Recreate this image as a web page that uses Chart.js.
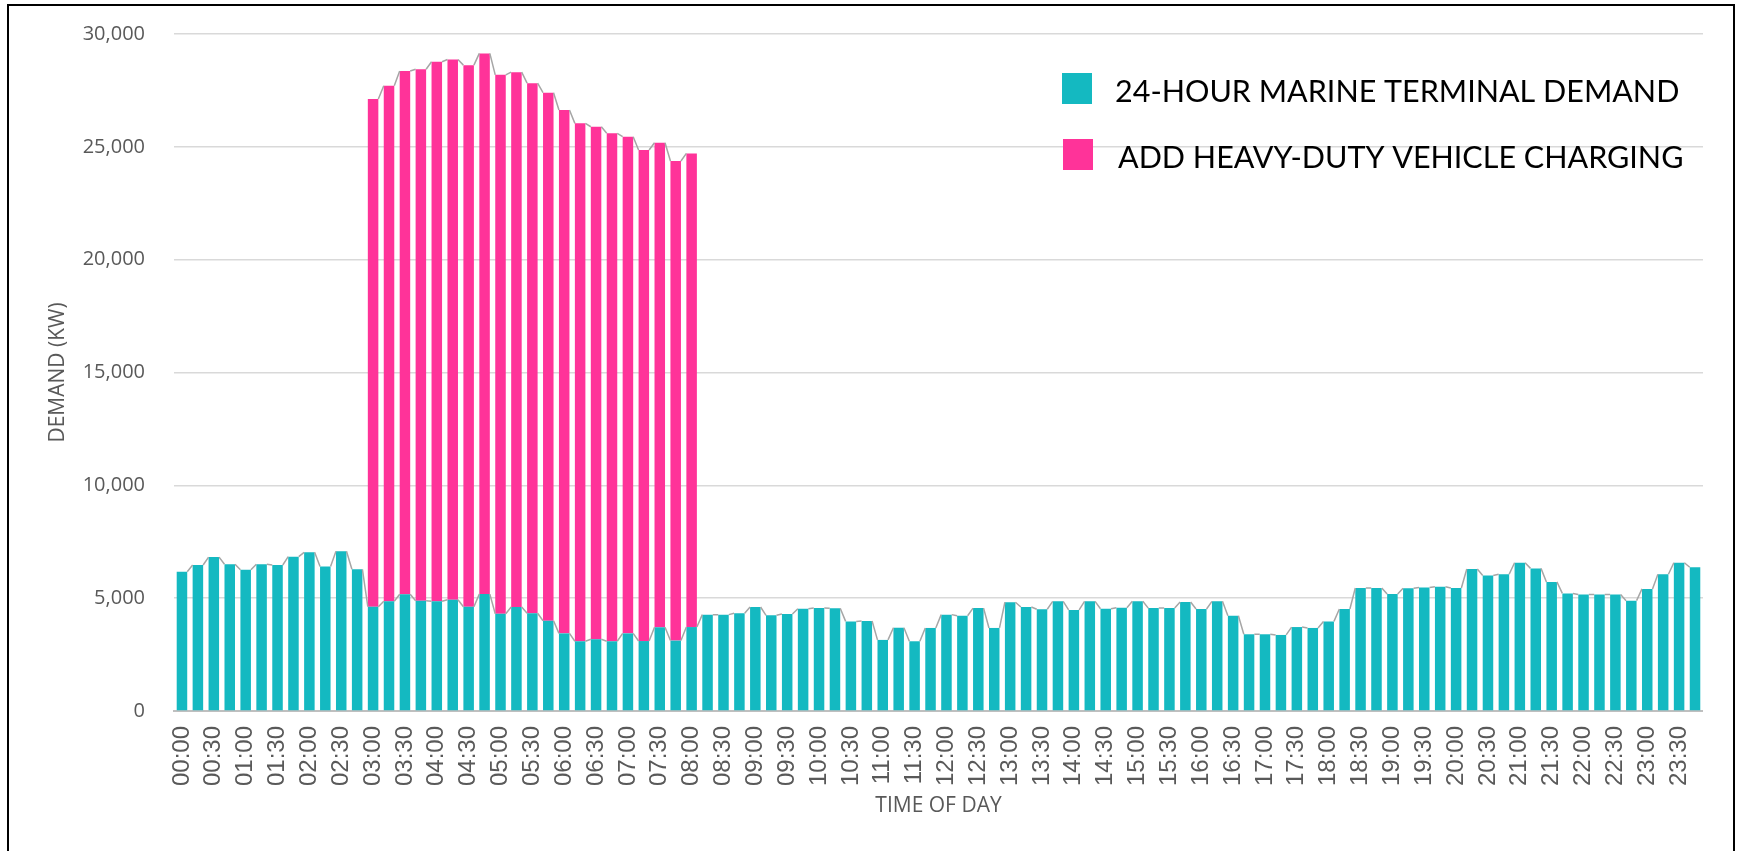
<!DOCTYPE html>
<html>
<head>
<meta charset="utf-8">
<script src="https://cdn.jsdelivr.net/npm/chart.js@4.4.1/dist/chart.umd.min.js"></script>
<style>
  html,body{margin:0;padding:0;background:#fff;overflow:hidden}
  #wrap{position:relative;width:1739px;height:851px}
  #frame{position:absolute;left:7px;top:4px;width:1728px;height:900px;border:2px solid #000;box-sizing:border-box;pointer-events:none}
  canvas{position:absolute;left:0;top:0}
</style>
</head>
<body>
<div id="wrap">
  <canvas id="chart" width="1739" height="851"></canvas>
  <div id="frame"></div>
</div>
<script>
// 15-minute slots, labelled every half hour
const times = [
  '00:00','00:15','00:30','00:45','01:00','01:15','01:30','01:45','02:00','02:15','02:30','02:45',
  '03:00','03:15','03:30','03:45','04:00','04:15','04:30','04:45','05:00','05:15','05:30','05:45',
  '06:00','06:15','06:30','06:45','07:00','07:15','07:30','07:45','08:00','08:15','08:30','08:45',
  '09:00','09:15','09:30','09:45','10:00','10:15','10:30','10:45','11:00','11:15','11:30','11:45',
  '12:00','12:15','12:30','12:45','13:00','13:15','13:30','13:45','14:00','14:15','14:30','14:45',
  '15:00','15:15','15:30','15:45','16:00','16:15','16:30','16:45','17:00','17:15','17:30','17:45',
  '18:00','18:15','18:30','18:45','19:00','19:15','19:30','19:45','20:00','20:15','20:30','20:45',
  '21:00','21:15','21:30','21:45','22:00','22:15','22:30','22:45','23:00','23:15','23:30','23:45'
];

const terminalDemand = [
  6170,6470,6820,6500,6260,6500,6470,6840,7030,6400,7080,6280,
  4620,4860,5170,4890,4860,4930,4620,5180,4310,4610,4330,4000,
  3440,3090,3180,3090,3440,3100,3710,3120,3720,4270,4270,4330,
  4610,4240,4300,4530,4560,4550,3970,3990,3150,3690,3090,3680,
  4270,4220,4560,3680,4820,4610,4510,4860,4480,4860,4530,4580,
  4860,4560,4560,4830,4520,4860,4220,3400,3400,3370,3720,3680,
  3970,4520,5450,5450,5180,5440,5470,5510,5450,6290,6000,6060,
  6570,6320,5720,5210,5160,5160,5160,4890,5410,6060,6570,6370
];

// charging only runs 03:00 - 08:00
const truckCharging = [
  null,null,null,null,null,null,null,null,null,null,null,null,
  22500,22850,23190,23550,23910,23940,24000,23960,23880,23700,23490,23400,
  23190,22950,22710,22510,22010,21760,21470,21250,20990,null,null,null,
  null,null,null,null,null,null,null,null,null,null,null,null,
  null,null,null,null,null,null,null,null,null,null,null,null,
  null,null,null,null,null,null,null,null,null,null,null,null,
  null,null,null,null,null,null,null,null,null,null,null,null,
  null,null,null,null,null,null,null,null,null,null,null,null
];

const seriesNames = ['24-HOUR MARINE TERMINAL DEMAND','ADD HEAVY-DUTY VEHICLE CHARGING'];
const TEAL='#14b9c1', PINK='#ff3399', GRAY='#595959';

// excel-style series lines between neighbouring bar tops
const seriesLines = {
  id:'seriesLines',
  afterDatasetsDraw(chart){
    const ctx=chart.ctx;
    ctx.save();
    ctx.strokeStyle='#a6a6a6'; ctx.lineWidth=1.5; ctx.lineJoin='round';
    chart.data.datasets.forEach((ds,d)=>{
      const bars=chart.getDatasetMeta(d).data;
      ctx.beginPath();
      for(let i=0;i<bars.length-1;i++){
        if(ds.data[i]==null||ds.data[i+1]==null) continue;
        const a=bars[i], b=bars[i+1];
        ctx.moveTo(a.x+a.width/2, a.y);
        ctx.lineTo(b.x-b.width/2, b.y);
      }
      ctx.stroke();
    });
    ctx.restore();
  }
};

const boxLegend = {
  id:'boxLegend',
  afterDraw(chart){
    const ctx=chart.ctx;
    const items=[{c:TEAL,x:1062,y:73,tx:1115,ty:102},{c:PINK,x:1063,y:139,tx:1118,ty:168}];
    ctx.save();
    ctx.font='30.5px Lato';
    ctx.textBaseline='alphabetic';
    items.forEach((it,i)=>{
      ctx.fillStyle=it.c; ctx.fillRect(it.x,it.y,30,31);
      ctx.fillStyle='#000'; ctx.fillText(seriesNames[i],it.tx,it.ty);
    });
    ctx.restore();
  }
};

new Chart(document.getElementById('chart'),{
  type:'bar',
  data:{
    labels:times,
    datasets:[
      {label:seriesNames[0],data:terminalDemand,backgroundColor:TEAL},
      {label:seriesNames[1],data:truckCharging,backgroundColor:PINK}
    ]
  },
  options:{
    responsive:false,
    animation:false,
    datasets:{bar:{categoryPercentage:1,barPercentage:0.66}},
    layout:{padding:{top:34,right:34,left:0,bottom:0}},
    plugins:{legend:{display:false},tooltip:{enabled:false}},
    scales:{
      x:{
        stacked:true,
        grid:{display:false,drawTicks:false},
        border:{color:'#bfbfbf',width:2},
        ticks:{autoSkip:false,minRotation:90,maxRotation:90,padding:15,color:GRAY,
          font:{family:'"Liberation Sans Narrow","Liberation Sans",Arial',size:24},
          callback:(v,i)=> i%2===0 ? times[i] : ''},
        title:{display:true,text:'TIME OF DAY',color:GRAY,font:{family:'"Open Sans"',size:21},padding:{top:0,bottom:32}},
        afterFit:s=>{s.height=140;}
      },
      y:{
        stacked:true,min:0,max:30000,
        grid:{color:'#d9d9d9',lineWidth:1.5,drawTicks:false},
        border:{display:false},
        ticks:{stepSize:5000,padding:29,color:GRAY,font:{family:'"Open Sans"',size:20},
          callback:v=>v.toLocaleString('en-US')},
        title:{display:true,text:'DEMAND (KW)',color:GRAY,font:{family:'"Open Sans"',size:21},padding:{top:45,bottom:0}},
        afterFit:s=>{s.width=174; s.paddingTop=0; s.paddingBottom=0;}
      }
    }
  },
  plugins:[seriesLines,boxLegend]
});
</script>
</body>
</html>
